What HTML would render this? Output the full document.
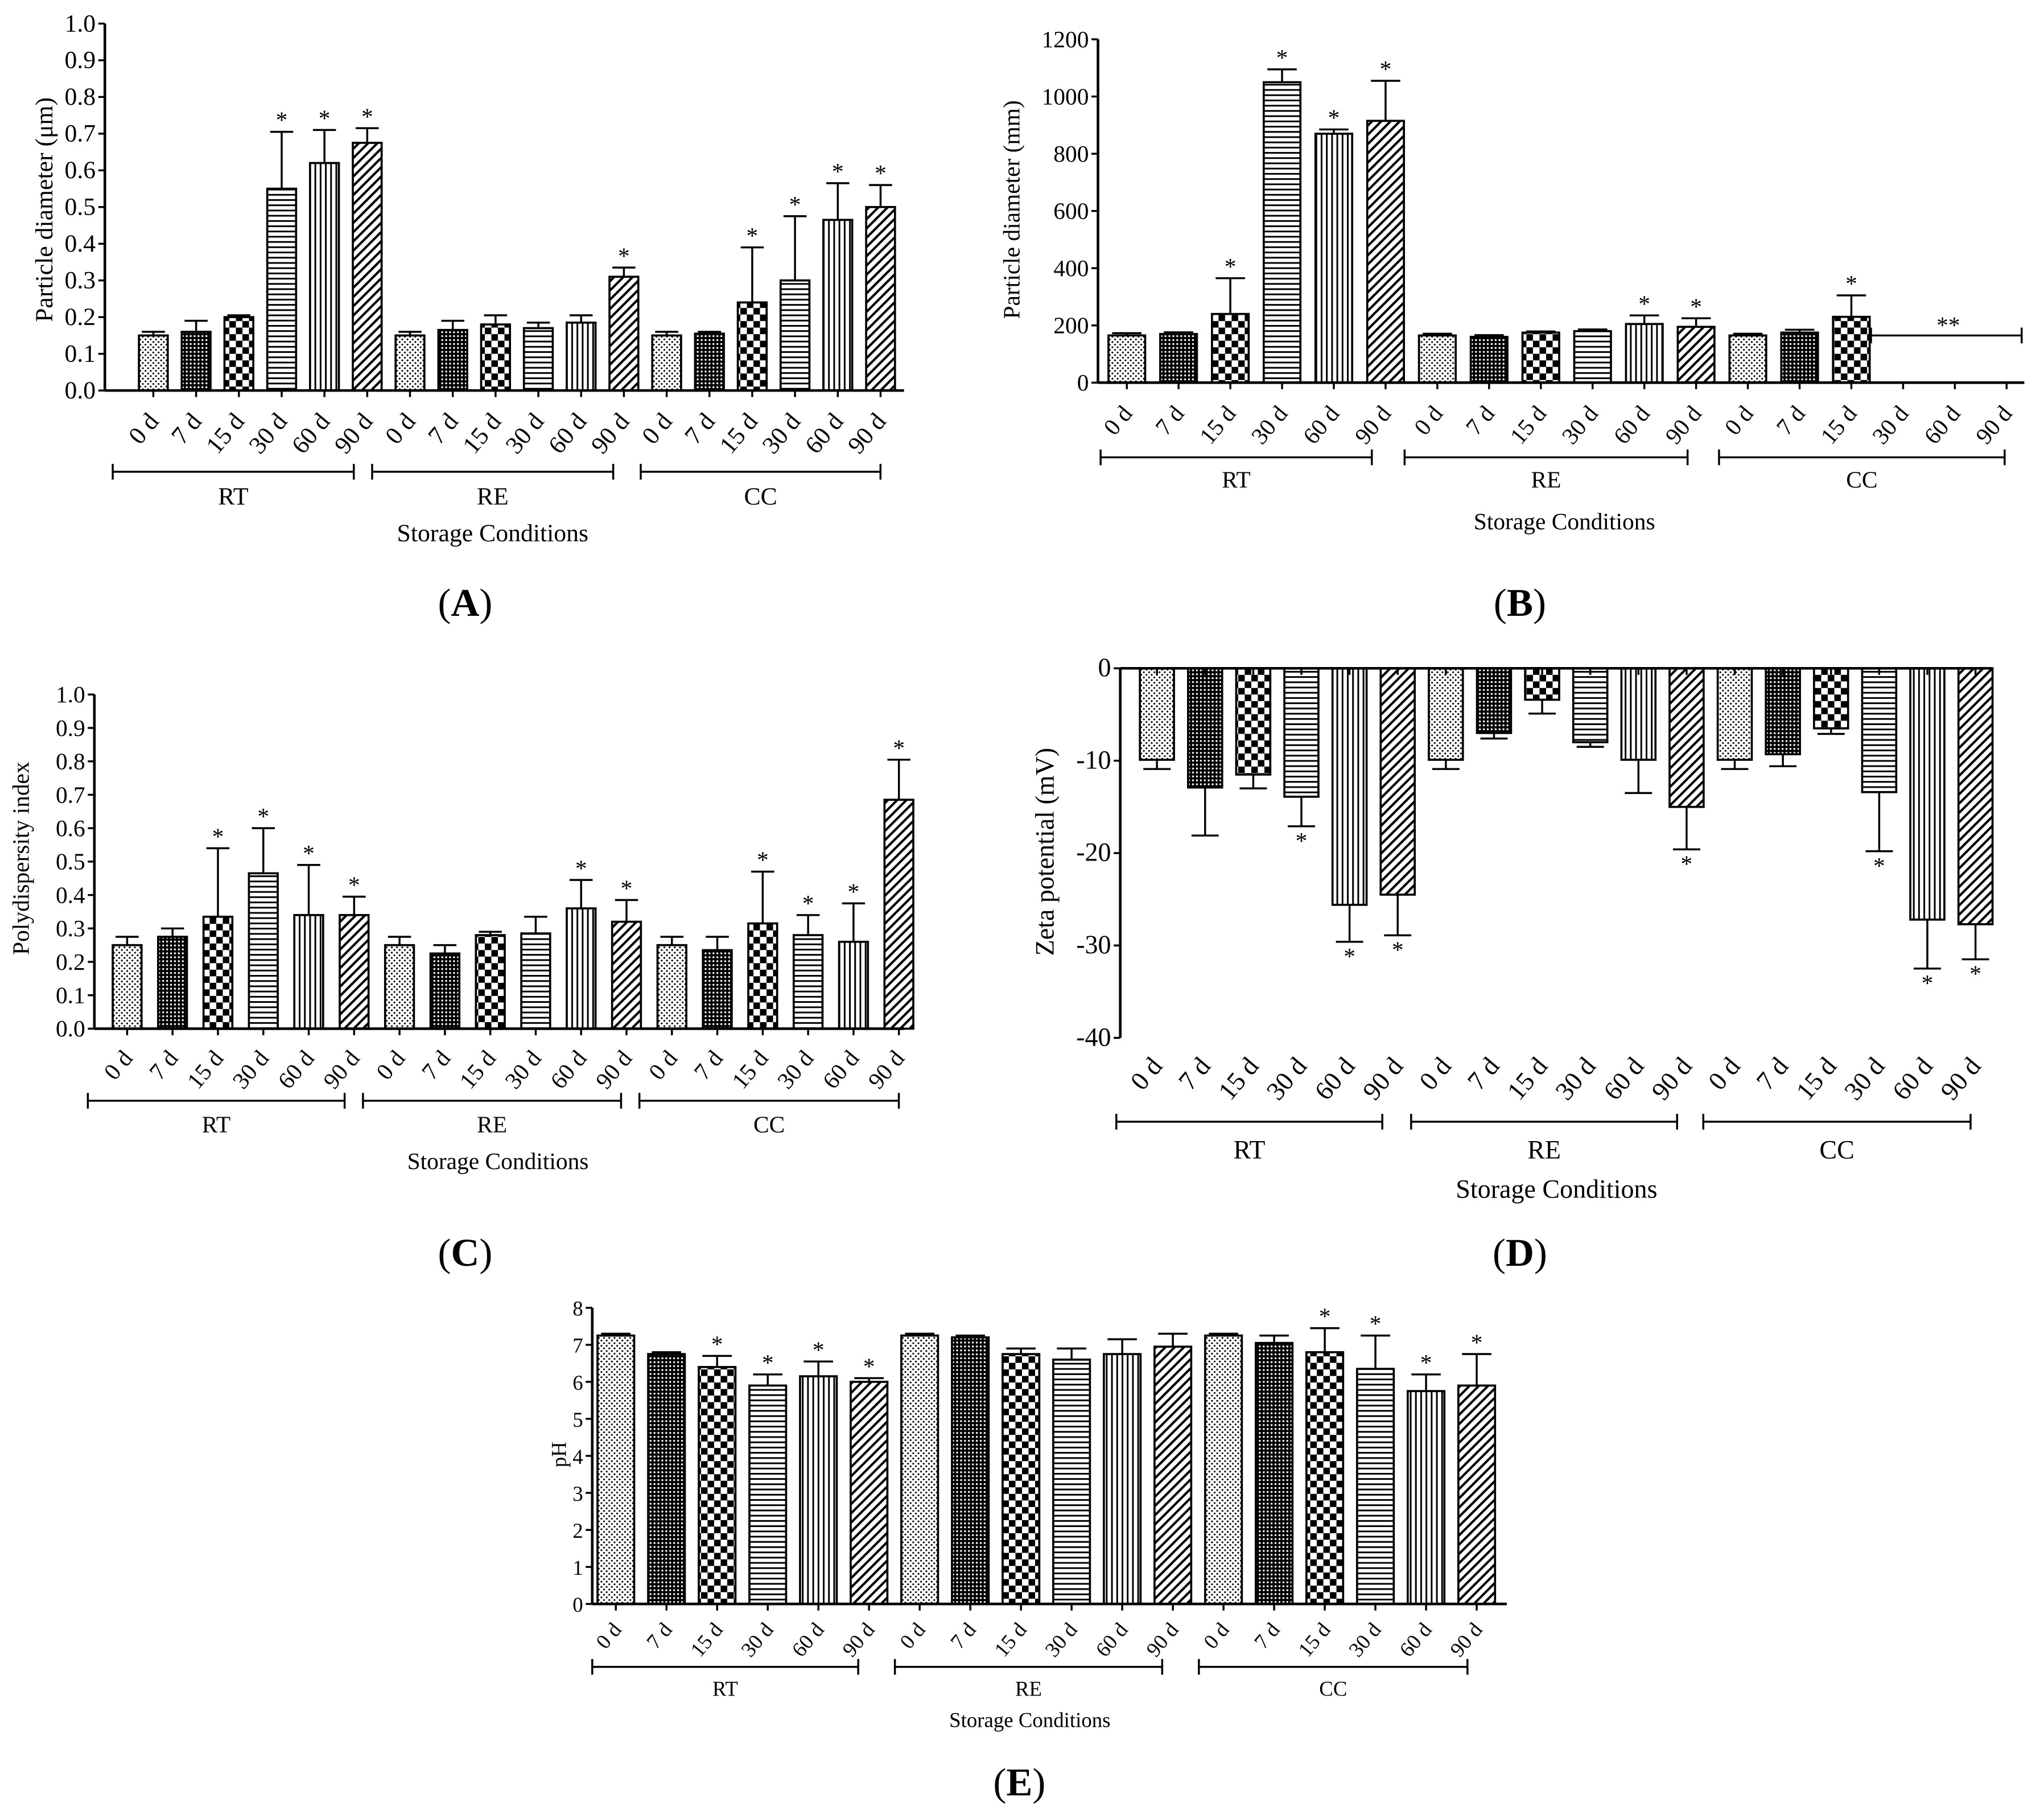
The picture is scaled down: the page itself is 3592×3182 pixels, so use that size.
<!DOCTYPE html>
<html><head><meta charset="utf-8"><style>html,body{margin:0;padding:0;background:#fff}svg{display:block}</style></head>
<body>
<svg id="fig" xmlns="http://www.w3.org/2000/svg" width="3592" height="3182" viewBox="0 0 1560 1382" font-family="Liberation Serif, serif">
<defs>
<pattern id="p0" patternUnits="userSpaceOnUse" width="4" height="4"><rect width="4" height="4" fill="#fff"/><circle cx="1" cy="1" r="0.7" fill="#000"/><circle cx="3" cy="3" r="0.7" fill="#000"/></pattern>
<pattern id="p7" patternUnits="userSpaceOnUse" width="3" height="3"><rect width="3" height="3" fill="#000"/><circle cx="1.5" cy="1.5" r="0.75" fill="#fff"/></pattern>
<pattern id="p15" patternUnits="userSpaceOnUse" width="10" height="10"><rect width="10" height="10" fill="#fff"/><rect width="5" height="5" fill="#000"/><rect x="5" y="5" width="5" height="5" fill="#000"/></pattern>
<pattern id="p30" patternUnits="userSpaceOnUse" width="4" height="4"><rect width="4" height="4" fill="#fff"/><rect y="0" width="4" height="1.3" fill="#000"/></pattern>
<pattern id="p60" patternUnits="userSpaceOnUse" width="4" height="4"><rect width="4" height="4" fill="#fff"/><rect x="0" width="1.3" height="4" fill="#000"/></pattern>
<pattern id="p90" patternUnits="userSpaceOnUse" width="5" height="5" patternTransform="rotate(45)"><rect width="5" height="5" fill="#fff"/><rect width="1.8" height="5" fill="#000"/></pattern>
</defs>
</svg>
<script>
const days = ["0 d","7 d","15 d","30 d","60 d","90 d"];
const groups = ["RT","RE","CC"];
const aVals = [0.15,0.16,0.20,0.55,0.62,0.675, 0.15,0.165,0.18,0.17,0.185,0.31, 0.15,0.155,0.24,0.30,0.465,0.50];
const aErr  = [0.01,0.03,0.005,0.155,0.09,0.04, 0.01,0.025,0.025,0.015,0.02,0.025, 0.01,0.005,0.15,0.175,0.10,0.06];
const aStar = [0,0,0,1,1,1, 0,0,0,0,0,1, 0,0,1,1,1,1];
const aTicks = ["0.0","0.1","0.2","0.3","0.4","0.5","0.6","0.7","0.8","0.9","1.0"];
const bVals = [165,170,240,1050,870,915, 165,160,175,180,205,195, 165,175,230];
const bErr  = [8,6,125,45,15,140, 6,6,4,6,30,30, 6,10,75];
const bStar = [0,0,1,1,1,1, 0,0,0,0,1,1, 0,0,1];
const bTicks = ["0","200","400","600","800","1000","1200"];
const cVals = [0.25,0.275,0.335,0.465,0.34,0.34, 0.25,0.225,0.28,0.285,0.36,0.32, 0.25,0.235,0.315,0.28,0.26,0.685];
const cErr  = [0.025,0.025,0.205,0.135,0.15,0.055, 0.025,0.025,0.01,0.05,0.085,0.065, 0.025,0.04,0.155,0.06,0.115,0.12];
const cStar = [0,0,1,1,1,1, 0,0,0,0,1,1, 0,0,1,1,1,1];
const cTicks = aTicks;
const dVals = [-9.9,-12.9,-11.5,-13.9,-25.6,-24.5, -9.9,-7,-3.4,-8,-9.9,-15, -9.9,-9.3,-6.5,-13.4,-27.2,-27.7];
const dErr  = [1,5.2,1.5,3.2,4,4.4, 1,0.6,1.5,0.5,3.6,4.6, 1,1.3,0.6,6.4,5.3,3.8];
const dStar = [0,0,0,1,1,1, 0,0,0,0,0,1, 0,0,0,1,1,1];
const dTicks = ["-40","-30","-20","-10","0"];
const eVals = [7.25,6.75,6.4,5.9,6.15,6.0, 7.25,7.2,6.75,6.6,6.75,6.95, 7.25,7.05,6.8,6.35,5.75,5.9];
const eErr  = [0.05,0.05,0.3,0.3,0.4,0.1, 0.05,0.05,0.15,0.3,0.4,0.35, 0.05,0.2,0.65,0.9,0.45,0.85];
const eStar = [0,0,1,1,1,1, 0,0,0,0,0,0, 0,0,1,1,1,1];
const eTicks = ["0","1","2","3","4","5","6","7","8"];

const NS="http://www.w3.org/2000/svg";
const svg=document.getElementById('fig');
function mk(tag,attrs,parent,txt){const e=document.createElementNS(NS,tag);for(const k in attrs)e.setAttribute(k,attrs[k]);if(txt!==undefined)e.textContent=txt;(parent||svg).appendChild(e);return e;}

function chart(c,vals,err,star,ticks){
  const g=mk('g',{});
  
  
  const ymin=Number(ticks[0]), ymax=Number(ticks[ticks.length-1]);
  const Y=v=>c.yb+(v-ymin)/(ymax-ymin)*(c.yt-c.yb);
  const X=i=>c.x0+i*c.dx;
  const y0=Y(0);
  vals.forEach((v,i)=>{
    const x=X(i), yv=Y(v), e=err[i];
    const top=Math.min(yv,y0), h=Math.abs(yv-y0);
    const r=mk('rect',{x:x-c.bw/2,y:top,width:c.bw,height:h,fill:'url(#p'+[0,7,15,30,60,90][i%6]+')',stroke:'#000','stroke-width':1.6},g);
    
    
    const ye = v>=0 ? Y(v+e) : Y(v-e);
    mk('line',{x1:x,y1:yv,x2:x,y2:ye,stroke:'#000','stroke-width':1.5},g);
    mk('line',{x1:x-c.bw*0.4,y1:ye,x2:x+c.bw*0.4,y2:ye,stroke:'#000','stroke-width':1.5},g);
    if(star[i]){
      const s=mk('text',{x:x,y:v>=0?ye-3:ye+17,'text-anchor':'middle','font-size':18},g,'*');
      
      
    }
  });
  mk('line',{x1:c.ax,y1:c.yt,x2:c.ax,y2:c.yb,stroke:'#000','stroke-width':2},g);
  mk('line',{x1:c.ax,y1:y0,x2:c.xend,y2:y0,stroke:'#000','stroke-width':2},g);
  ticks.forEach(t=>{const yy=Y(Number(t));
    mk('line',{x1:c.ax-5,y1:yy,x2:c.ax,y2:yy,stroke:'#000','stroke-width':1.5},g);
    const tl=mk('text',{x:c.ax-7,y:yy+6,'text-anchor':'end','font-size':c.fs},g,t);
    
    
  });
  const nAll=18;
  for(let i=0;i<nAll;i++){
    const x=X(i), yl=c.xlabY;
    mk('line',{x1:x,y1:y0,x2:x,y2:y0+5,stroke:'#000','stroke-width':1.5},g);
    const t=mk('text',{x:x+5,y:yl,'text-anchor':'end','font-size':c.fs,transform:`rotate(-50 ${x+5} ${yl})`},g,days[i%6]);
    
    
  }
  c.br.forEach((b,k)=>{
    mk('line',{x1:b[0],y1:c.bry,x2:b[1],y2:c.bry,stroke:'#000','stroke-width':1.5},g);
    mk('line',{x1:b[0],y1:c.bry-6,x2:b[0],y2:c.bry+6,stroke:'#000','stroke-width':1.5},g);
    mk('line',{x1:b[1],y1:c.bry-6,x2:b[1],y2:c.bry+6,stroke:'#000','stroke-width':1.5},g);
    const gl=mk('text',{x:(b[0]+b[1])/2,y:c.gly,'text-anchor':'middle','font-size':c.fs},g,groups[k]);
    
    
  });
  const xt=mk('text',{x:c.scx,y:c.scy,'text-anchor':'middle','font-size':c.fs},g,'Storage Conditions');
  
  
  const yt=mk('text',{x:c.ytx,y:c.yty,'text-anchor':'middle','font-size':c.fs,transform:`rotate(-90 ${c.ytx} ${c.yty})`},g,c.ytitle);
  
  
  const pl=mk('text',{x:c.plx,y:c.ply,'text-anchor':'middle','font-size':30},g,'');
  mk('tspan',{},pl,'(');mk('tspan',{'font-weight':'bold'},pl,c.letter);mk('tspan',{},pl,')');
  
  
  return {g,X,Y,y0};
}

chart({name:'chart-a',x0:117,dx:32.65,bw:22,ax:80,xend:690,yt:18,yb:298,fs:19,xlabY:322,
  br:[[86,270],[284,468],[489,672]],bry:360,gly:385,scx:376,scy:413,ytx:40,yty:160,ytitle:'Particle diameter (μm)',plx:355,ply:470,letter:'A'},aVals,aErr,aStar,aTicks);
chart({name:'chart-b',x0:860,dx:39.5,bw:28,ax:838,xend:1545,yt:30,yb:292,fs:18,xlabY:316,
  br:[[840,1047],[1072,1288],[1312,1530]],bry:349,gly:372,scx:1194,scy:404,ytx:778,yty:160,ytitle:'Particle  diameter (mm)',plx:1160,ply:470,letter:'B'},bVals,bErr,bStar,bTicks);
mk('line',{x1:1428,y1:256,x2:1543,y2:256,stroke:'#000','stroke-width':1.5});
mk('line',{x1:1428,y1:250,x2:1428,y2:262,stroke:'#000','stroke-width':1.5});
mk('line',{x1:1543,y1:250,x2:1543,y2:262,stroke:'#000','stroke-width':1.5});
mk('text',{x:1487,y:254,'text-anchor':'middle','font-size':18},svg,'**');
chart({name:'chart-c',x0:97,dx:34.65,bw:22,ax:72,xend:690,yt:530,yb:785,fs:18,xlabY:808,
  br:[[67,263],[277,474],[488,686]],bry:840,gly:864,scx:380,scy:892,ytx:22,yty:655,ytitle:'Polydispersity index',plx:355,ply:966,letter:'C'},cVals,cErr,cStar,cTicks);
chart({name:'chart-d',x0:883,dx:36.75,bw:26,ax:855,xend:1520,yt:510,yb:792,fs:20,xlabY:814,
  br:[[852,1055],[1077,1280],[1300,1504]],bry:856,gly:884,scx:1188,scy:914,ytx:804,yty:650,ytitle:'Zeta potential (mV)',plx:1160,ply:966,letter:'D'},dVals,dErr,dStar,dTicks);
chart({name:'chart-e',x0:470,dx:38.65,bw:28,ax:452,xend:1150,yt:998,yb:1224,fs:16,xlabY:1244,
  br:[[452,655],[683,887],[915,1120]],bry:1272,gly:1294,scx:786,scy:1318,ytx:432,yty:1110,ytitle:'pH',plx:778,ply:1370,letter:'E'},eVals,eErr,eStar,eTicks);
</script>
</body></html>
